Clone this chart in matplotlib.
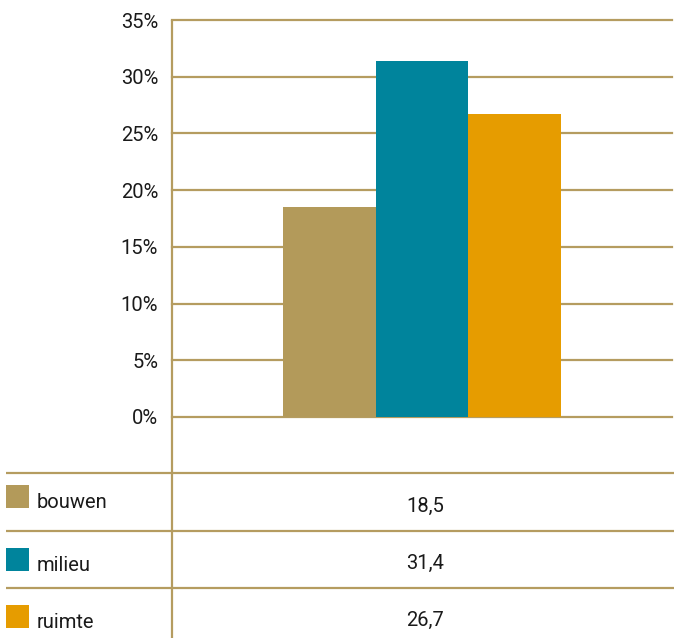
import matplotlib
matplotlib.use("Agg")
import matplotlib.pyplot as plt
from matplotlib.patches import Rectangle

# ---- data ----
series = ["bouwen", "milieu", "ruimte"]
values = [18.5, 31.4, 26.7]
value_labels = ["18,5", "31,4", "26,7"]
colors = ["#b39a5a", "#00849c", "#e69c00"]
yticks = [0, 5, 10, 15, 20, 25, 30, 35]
ytick_labels = ["0%", "5%", "10%", "15%", "20%", "25%", "30%", "35%"]

W, H = 674, 638
GRID = "#b59c60"
TXT = "#1a1a1a"
plt.rcParams['font.family'] = ['Roboto', 'DejaVu Sans']
FS = 14.5

fig = plt.figure(figsize=(W / 100, H / 100), dpi=100)

# overlay axes in pixel coordinates for the data table
ov = fig.add_axes([0, 0, 1, 1])
ov.set_xlim(0, W)
ov.set_ylim(H, 0)
ov.axis("off")

# bar axes
x0, x1 = 172, 672
y_top, y_bot = 20, 417
ax = fig.add_axes([x0 / W, (H - y_bot) / H, (x1 - x0) / W, (y_bot - y_top) / H])
ax.set_xlim(-0.5, 0.5)
ax.set_ylim(0, 35)
ax.patch.set_alpha(0)
for s in ax.spines.values():
    s.set_visible(False)
ax.set_yticks(yticks)
ax.set_yticklabels(ytick_labels, fontsize=FS, color=TXT)
ax.tick_params(axis="y", length=0, pad=10)
ax.set_xticks([])
ax.grid(axis="y", color=GRID, linewidth=1.6)
for gl in ax.get_ygridlines():
    gl.set_clip_on(False)
ax.set_axisbelow(True)

bw = 0.1847
for i, (v, c) in enumerate(zip(values, colors)):
    ax.bar((i - 1) * bw, v, width=bw, color=c, zorder=3, linewidth=0)

# vertical axis line through plot and table
ov.plot([172, 172], [20, H], color=GRID, linewidth=1.6, solid_capstyle="butt")

# table rows
row_lines = [473, 531, 588]
for yl in row_lines:
    ov.plot([6, W], [yl, yl], color=GRID, linewidth=1.6, solid_capstyle="butt")

sq_top = [485, 548, 605]
val_base = [512, 569, 626]
for i, name in enumerate(series):
    ov.add_patch(Rectangle((6, sq_top[i]), 23, 23, facecolor=colors[i], edgecolor="none"))
    ov.text(37, sq_top[i] + 23, name, fontsize=FS, color=TXT, ha="left", va="baseline")
    ov.text(425, val_base[i], value_labels[i], fontsize=FS, color=TXT, ha="center", va="baseline")

fig.savefig("out.png", dpi=100)
